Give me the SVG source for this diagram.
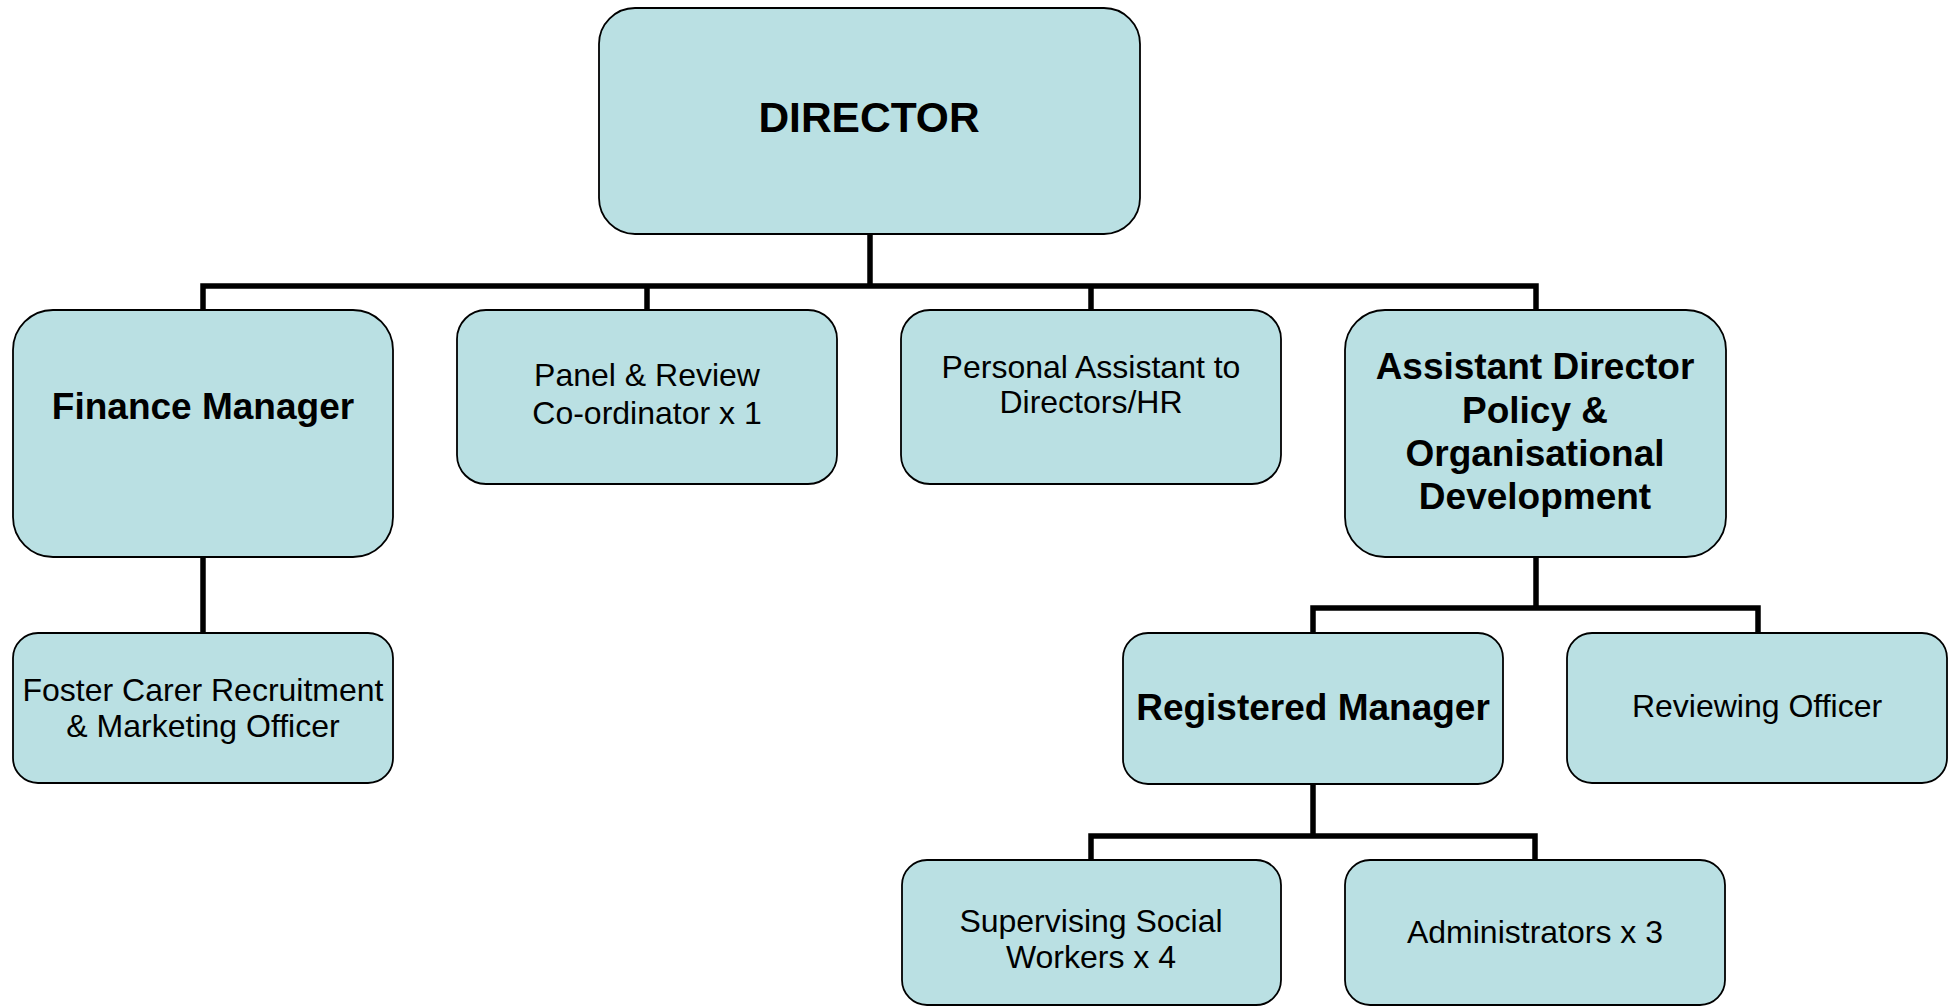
<svg xmlns="http://www.w3.org/2000/svg" width="1952" height="1008" viewBox="0 0 1952 1008">
<style>
.box{fill:#BAE0E3;stroke:#000;stroke-width:1.8}
.t{font-family:"Liberation Sans",Arial,sans-serif;fill:#000;text-anchor:middle}
.r{font-size:32px}
.b{font-size:37px;font-weight:bold}
.con{fill:none;stroke:#000;stroke-width:5.5;stroke-linecap:square;stroke-linejoin:miter}
</style>
<rect width="1952" height="1008" fill="#fff"/>
<g id="connectors">
<path class="con" d="M870 234V286M203 286H1536M203 286V310M647 286V310M1091 286V310M1536 286V310"/>
<path class="con" d="M203 557V633"/>
<path class="con" d="M1536 557V608M1313 608H1758M1313 608V633M1758 608V633"/>
<path class="con" d="M1313 784V836M1091 836H1535M1091 836V860M1535 836V860"/>
</g>
<g id="director">
<rect class="box" x="599" y="8" width="541" height="226" rx="36"/>
<text class="t" x="869" y="132" style="font-size:42.5px;font-weight:bold">DIRECTOR</text>
</g>
<g id="finance-manager">
<rect class="box" x="13" y="310" width="380" height="247" rx="40"/>
<text class="t b" x="203" y="419">Finance Manager</text>
</g>
<g id="panel-review">
<rect class="box" x="457" y="310" width="380" height="174" rx="29"/>
<text class="t r" x="647" y="386">Panel &amp; Review</text>
<text class="t r" x="647" y="424">Co-ordinator x 1</text>
</g>
<g id="personal-assistant">
<rect class="box" x="901" y="310" width="380" height="174" rx="29"/>
<text class="t r" x="1091" y="378">Personal Assistant to</text>
<text class="t r" x="1091" y="413">Directors/HR</text>
</g>
<g id="assistant-director">
<rect class="box" x="1345" y="310" width="381" height="247" rx="40"/>
<text class="t b" x="1535" y="379">Assistant Director</text>
<text class="t b" x="1535" y="423">Policy &amp;</text>
<text class="t b" x="1535" y="466">Organisational</text>
<text class="t b" x="1535" y="509">Development</text>
</g>
<g id="foster-carer">
<rect class="box" x="13" y="633" width="380" height="150" rx="25"/>
<text class="t r" x="203" y="701">Foster Carer Recruitment</text>
<text class="t r" x="203" y="737">&amp; Marketing Officer</text>
</g>
<g id="registered-manager">
<rect class="box" x="1123" y="633" width="380" height="151" rx="25"/>
<text class="t b" x="1313" y="720">Registered Manager</text>
</g>
<g id="reviewing-officer">
<rect class="box" x="1567" y="633" width="380" height="150" rx="25"/>
<text class="t r" x="1757" y="717">Reviewing Officer</text>
</g>
<g id="supervising-social-workers">
<rect class="box" x="902" y="860" width="379" height="145" rx="25"/>
<text class="t r" x="1091" y="932">Supervising Social</text>
<text class="t r" x="1091" y="968">Workers x 4</text>
</g>
<g id="administrators">
<rect class="box" x="1345" y="860" width="380" height="145" rx="25"/>
<text class="t r" x="1535" y="943">Administrators x 3</text>
</g>
</svg>
